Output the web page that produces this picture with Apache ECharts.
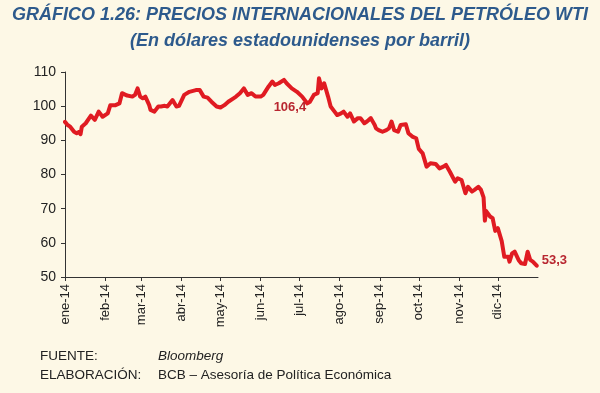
<!DOCTYPE html>
<html>
<head>
<meta charset="utf-8">
<script src="https://cdn.jsdelivr.net/npm/echarts@6/dist/echarts.min.js"></script>
<style>
html,body{margin:0;padding:0;background:#fdf8e6;}
#chart{width:600px;height:393px;}
</style>
</head>
<body>
<div id="chart"></div>
<script>
const monthLabels = ['ene-14','feb-14','mar-14','abr-14','may-14','jun-14','jul-14','ago-14','sep-14','oct-14','nov-14','dic-14'];
const dates = [
'2014-01-01','2014-01-03','2014-01-05','2014-01-08','2014-01-10','2014-01-12','2014-01-13','2014-01-14','2014-01-17','2014-01-21','2014-01-24','2014-01-27','2014-01-30',
'2014-02-03','2014-02-05','2014-02-09','2014-02-12','2014-02-14','2014-02-18','2014-02-22','2014-02-24','2014-02-26','2014-02-28',
'2014-03-02','2014-03-04','2014-03-07','2014-03-08','2014-03-11','2014-03-14','2014-03-16','2014-03-19','2014-03-21','2014-03-25','2014-03-28','2014-03-30',
'2014-04-03','2014-04-07','2014-04-12','2014-04-15','2014-04-18','2014-04-21','2014-04-24','2014-04-28',
'2014-05-01','2014-05-04','2014-05-07','2014-05-11','2014-05-13','2014-05-16','2014-05-19','2014-05-22','2014-05-25','2014-05-28',
'2014-06-01','2014-06-03','2014-06-07','2014-06-10','2014-06-12','2014-06-15','2014-06-19','2014-06-21','2014-06-25','2014-06-29',
'2014-07-03','2014-07-07','2014-07-09','2014-07-12','2014-07-15','2014-07-16','2014-07-18','2014-07-20','2014-07-23','2014-07-25','2014-07-28','2014-07-30',
'2014-08-02','2014-08-04','2014-08-07','2014-08-09','2014-08-12','2014-08-15','2014-08-17','2014-08-20','2014-08-22','2014-08-25','2014-08-28','2014-08-29','2014-08-31',
'2014-09-03','2014-09-06','2014-09-08','2014-09-10','2014-09-12','2014-09-15','2014-09-17','2014-09-21','2014-09-23','2014-09-26','2014-09-29',
'2014-10-01','2014-10-04','2014-10-07','2014-10-10','2014-10-14','2014-10-17','2014-10-20','2014-10-22','2014-10-25','2014-10-29','2014-10-31',
'2014-11-03','2014-11-06','2014-11-08','2014-11-11','2014-11-13','2014-11-16','2014-11-18','2014-11-20','2014-11-21','2014-11-22','2014-11-25','2014-11-27','2014-11-29',
'2014-12-01','2014-12-04','2014-12-06','2014-12-09','2014-12-10','2014-12-12','2014-12-13','2014-12-14','2014-12-17','2014-12-19','2014-12-22','2014-12-24','2014-12-26','2014-12-28','2014-12-31'
];
const wti = [
95.4,94.5,94.0,92.5,92.1,92.5,91.8,94.0,95.0,97.2,96.0,98.4,96.9,
97.9,100.3,100.3,100.8,103.8,103.1,102.8,103.3,105.2,102.8,
102.3,102.8,100.3,98.9,98.4,99.9,99.9,100.1,99.9,101.8,99.9,100.1,
103.3,104.2,104.7,104.7,102.8,102.5,101.3,99.9,
99.6,100.3,101.3,102.3,102.8,103.8,105.2,103.3,103.8,102.8,
102.8,103.3,105.7,107.2,106.2,106.7,107.7,106.7,105.2,104.2,
102.8,100.8,101.3,103.3,103.8,108.2,105.2,106.7,102.8,99.9,98.4,97.4,
97.9,98.4,96.9,97.9,95.5,96.5,96.5,95.0,95.5,96.5,94.5,93.5,93.0,
92.5,93.0,93.5,95.5,93.0,92.5,94.5,94.7,92.1,91.1,90.6,
87.5,86.2,82.3,83.3,83.1,81.8,82.3,82.8,80.8,77.9,78.9,
78.4,74.5,76.4,75.0,75.5,76.4,75.5,73.3,66.5,69.3,67.7,67.2,63.5,
64.3,60.5,55.9,55.9,54.5,56.9,56.4,57.4,55.0,54.0,53.8,57.4,55.0,54.5,53.3
];
const yTicks = [50,60,70,80,90,100,110];
const noteAvg = {date:'2014-06-22', value:100.1, text:'106,4'};
const noteLast = {text:'53,3'};

const FONT = '"Liberation Sans", Arial, sans-serif';
const toTime = s => { const p = s.split('-').map(Number); return Date.UTC(p[0], p[1] - 1, p[2]); };
const monthStarts = monthLabels.map((_, i) => Date.UTC(2014, i, 1));
const seriesData = dates.map((d, i) => [toTime(d), wti[i]]);

const titleStyle = {fontFamily: FONT, fontSize: 18, fontWeight: 'bold', fontStyle: 'italic', color: '#2d5a8c'};
const footStyle = {fontFamily: FONT, fontSize: 13.5, fontWeight: 'normal', color: '#222'};

const chart = echarts.init(document.getElementById('chart'));
chart.setOption({
  backgroundColor: '#fdf8e6',
  animation: false,
  title: [
    {text: 'GRÁFICO 1.26: PRECIOS INTERNACIONALES DEL PETRÓLEO WTI', left: 'center', top: 6, padding: 0, textStyle: titleStyle},
    {text: '(En dólares estadounidenses por barril)', left: 'center', top: 32, padding: 0, textStyle: titleStyle},
    {text: 'FUENTE:', left: 40, top: 349, padding: 0, textStyle: footStyle},
    {text: 'Bloomberg', left: 158, top: 349, padding: 0, textStyle: Object.assign({}, footStyle, {fontStyle: 'italic'})},
    {text: 'ELABORACIÓN:', left: 40, top: 368, padding: 0, textStyle: footStyle},
    {text: 'BCB – Asesoría de Política Económica', left: 158, top: 368, padding: 0, textStyle: footStyle}
  ],
  grid: {left: 65, right: 62, top: 72, bottom: 116},
  xAxis: {
    type: 'value',
    min: Date.UTC(2014, 0, 1),
    max: Date.UTC(2015, 0, 1),
    axisLine: {lineStyle: {color: '#333', width: 1}},
    axisTick: {show: true, inside: false, length: 4, customValues: monthStarts, lineStyle: {color: '#333'}},
    axisLabel: {
      customValues: monthStarts,
      rotate: 90, margin: 7,
      fontFamily: FONT, fontSize: 13, color: '#222',
      formatter: v => monthLabels[new Date(v).getUTCMonth()]
    },
    splitLine: {show: false}
  },
  yAxis: {
    type: 'value', min: 50, max: 110, interval: 10,
    axisLine: {show: true, lineStyle: {color: '#333', width: 1}},
    axisTick: {show: true, inside: false, length: 4, lineStyle: {color: '#333'}},
    axisLabel: {fontFamily: FONT, fontSize: 14, color: '#222', margin: 9,
      formatter: v => yTicks.includes(v) ? String(v) : ''},
    splitLine: {show: false}
  },
  series: [{
    type: 'line',
    data: seriesData,
    showSymbol: false,
    symbol: 'none',
    lineStyle: {color: '#e01b22', width: 4, join: 'round', cap: 'round'},
    markPoint: {
      symbol: 'circle', symbolSize: 0,
      label: {show: true, fontFamily: FONT, fontSize: 13, fontWeight: 'bold', color: '#b82730'},
      data: [
        {coord: [toTime(noteAvg.date), noteAvg.value], value: noteAvg.text, label: {position: 'inside', offset: [2, 2], formatter: noteAvg.text}},
        {coord: [toTime(dates[dates.length - 1]), wti[wti.length - 1]], value: noteLast.text, label: {position: 'right', distance: 5, offset: [0, -5], formatter: noteLast.text}}
      ]
    }
  }]
});
</script>
</body>
</html>
